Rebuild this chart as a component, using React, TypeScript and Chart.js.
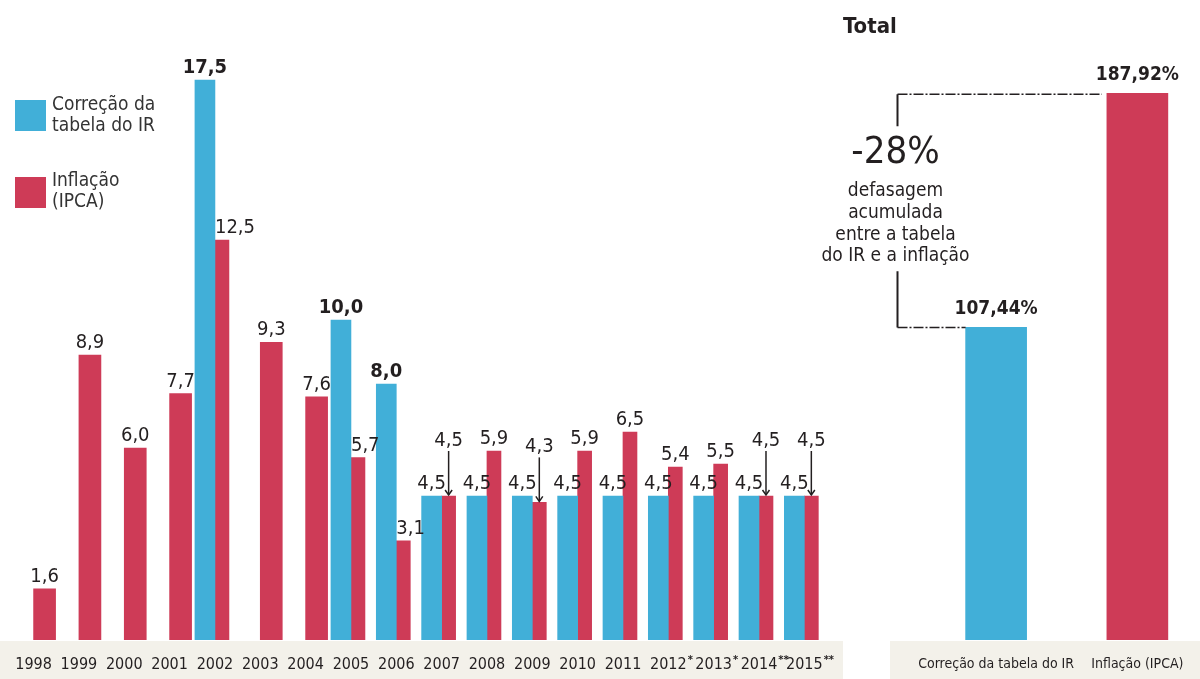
import React, { useEffect, useRef } from "react";
import { Chart, registerables } from "chart.js";

Chart.register(...registerables);

// ---------- data ----------
const years = ["1998", "1999", "2000", "2001", "2002", "2003", "2004", "2005", "2006", "2007", "2008", "2009", "2010", "2011", "2012*", "2013*", "2014**", "2015**"];
const irCorrection = [0, 0, 0, 0, 17.5, 0, 0, 10.0, 8.0, 4.5, 4.5, 4.5, 4.5, 4.5, 4.5, 4.5, 4.5, 4.5];
const inflation = [1.6, 8.9, 6.0, 7.7, 12.5, 9.3, 7.6, 5.7, 3.1, 4.5, 5.9, 4.3, 5.9, 6.5, 5.4, 5.5, 4.5, 4.5];
const seriesNames = ["Correção da tabela do IR", "Inflação (IPCA)"];
const legendLines = [["Correção da", "tabela do IR"], ["Inflação", "(IPCA)"]];
const totalLabels = ["Correção da tabela do IR", "Inflação (IPCA)"];
const totalValues = [107.44, 187.92];
const totalTitle = "Total";
const gapNote = ["defasagem", "acumulada", "entre a tabela", "do IR e a inflação"];

// ---------- style ----------
const BLUE = "#41AFD8";
const RED = "#CE3B57";
const TEXT = "#231F20";
const STRIP = "#F3F1EA";
const COND = "'DejaVu Sans Condensed', 'DejaVu Sans', sans-serif";
const YEAR_FONT_SIZE = 16;

const fmt = (v: number, d = 1) => v.toFixed(d).replace(".", ",");
const yearDigits = (s: string) => s.replace(/\*/g, "");
const yearMarks = (s: string) => s.replace(/[^*]/g, "");

const barLabelsPlugin = {
  id: "barLabels",
  afterDatasetsDraw(chart: any) {
    const ctx = chart.ctx;
    ctx.save();
    ctx.fillStyle = TEXT;
    ctx.strokeStyle = TEXT;
    ctx.textBaseline = "alphabetic";
    chart.data.datasets.forEach((ds: any, di: number) => {
      const meta = chart.getDatasetMeta(di);
      meta.data.forEach((el: any, i: number) => {
        const v = ds.data[i];
        if (v == null || v === 0) return;
        const { x, y, width } = el.getProps(["x", "y", "width"], true);
        const text = fmt(v);
        if (ds.stack === "ir") {
          ctx.font = `${v > 5 ? "bold" : "normal"} 20px ${COND}`;
          ctx.textAlign = "center";
          ctx.fillText(text, x, y - 7);
        } else {
          const ir = irCorrection[i];
          ctx.font = `normal 20px ${COND}`;
          if (ir > 0 && Math.abs(v - ir) <= 0.3) {
            ctx.textAlign = "center";
            ctx.fillText(text, x, y - 50);
            ctx.lineWidth = 1.5;
            ctx.beginPath();
            ctx.moveTo(x, y - 45);
            ctx.lineTo(x, y - 1);
            ctx.stroke();
            ctx.beginPath();
            ctx.moveTo(x - 3.5, y - 6);
            ctx.lineTo(x, y - 1);
            ctx.lineTo(x + 3.5, y - 6);
            ctx.stroke();
          } else if (ir > v) {
            ctx.textAlign = "left";
            ctx.fillText(text, x - width / 2, y - 7);
          } else {
            ctx.textAlign = "center";
            ctx.fillText(text, x, y - 7);
          }
        }
      });
    });
    // superscript marks next to the year ticks
    const xs = chart.scales.x;
    ctx.textBaseline = "top";
    years.forEach((lab, i) => {
      const marks = yearMarks(lab);
      if (!marks) return;
      const px = xs.getPixelForTick(i);
      ctx.font = `normal ${YEAR_FONT_SIZE}px ${COND}`;
      const w = ctx.measureText(yearDigits(lab)).width;
      ctx.font = `bold 11px ${COND}`;
      ctx.textAlign = "left";
      ctx.fillText(marks, px + w / 2 + 1, chart.chartArea.bottom + 15);
    });
    ctx.restore();
  },
};

const totalPlugin = {
  id: "totalNotes",
  afterDatasetsDraw(chart: any) {
    const ctx = chart.ctx;
    const meta = chart.getDatasetMeta(0);
    const bl = meta.data[0].getProps(["x", "y", "width"], true);
    const rd = meta.data[1].getProps(["x", "y", "width"], true);
    ctx.save();
    ctx.fillStyle = TEXT;
    ctx.strokeStyle = TEXT;
    // value labels
    ctx.font = `bold 19px ${COND}`;
    ctx.textAlign = "center";
    ctx.textBaseline = "alphabetic";
    meta.data.forEach((el: any, i: number) => {
      const p = el.getProps(["x", "y"], true);
      ctx.fillText(fmt(totalValues[i], 2) + "%", p.x, p.y - 13);
    });
    // bracket
    const bx = chart.chartArea.left - 28;
    const yTop = rd.y + 1;
    ctx.lineWidth = 1.5;
    ctx.setLineDash([10, 2, 2, 2]);
    ctx.beginPath();
    ctx.moveTo(bx, yTop);
    ctx.lineTo(rd.x - rd.width / 2 - 5, yTop);
    ctx.moveTo(bx, bl.y);
    ctx.lineTo(bl.x - bl.width / 2, bl.y);
    ctx.stroke();
    ctx.setLineDash([]);
    ctx.lineWidth = 2;
    ctx.beginPath();
    ctx.moveTo(bx, yTop);
    ctx.lineTo(bx, yTop + 32);
    ctx.moveTo(bx, yTop + 177);
    ctx.lineTo(bx, bl.y);
    ctx.stroke();
    // note text
    const gap = Math.round(((1 + totalValues[0] / 100) / (1 + totalValues[1] / 100) - 1) * 100);
    ctx.font = `normal 38px ${COND}`;
    ctx.fillText(`${gap}%`, bx - 2, yTop + 69);
    ctx.font = `normal 19px ${COND}`;
    const offs = [102, 124, 146, 167];
    gapNote.forEach((t, i) => ctx.fillText(t, bx - 2, yTop + offs[i]));
    ctx.restore();
  },
};

export default function App() {
  const leftRef = useRef<HTMLCanvasElement>(null);
  const rightRef = useRef<HTMLCanvasElement>(null);

  useEffect(() => {
    const left = new Chart(leftRef.current as HTMLCanvasElement, {
      type: "bar",
      data: {
        labels: years,
        datasets: [
          {
            label: seriesNames[0],
            data: irCorrection,
            backgroundColor: (c: any) => (c.raw ? BLUE : "rgba(0,0,0,0)"),
            stack: "ir",
            barThickness: 20,
          } as any,
          { label: seriesNames[1], data: inflation.map((v, i) => (irCorrection[i] === 0 ? v : null)), backgroundColor: RED, stack: "ipca", barThickness: 22 } as any,
          { label: seriesNames[1], data: inflation.map((v, i) => (irCorrection[i] > 0 ? v : null)), backgroundColor: RED, stack: "ipca", barThickness: 14 } as any,
        ],
      },
      options: {
        responsive: false,
        animation: false,
        layout: { padding: { left: 10, right: 16, top: 0, bottom: 0 } },
        plugins: { legend: { display: false }, tooltip: { enabled: false } },
        scales: {
          x: {
            stacked: true,
            grid: { display: false, drawTicks: false },
            border: { display: false },
            ticks: {
              color: TEXT,
              font: { family: COND, size: YEAR_FONT_SIZE },
              padding: 15,
              maxRotation: 0,
              minRotation: 0,
              autoSkip: false,
              callback: (_v: any, i: number) => yearDigits(years[i]),
            },
            afterFit: (s: any) => { s.height = 39; },
          },
          y: { stacked: true, display: false, min: 0, max: 20 },
        },
      } as any,
      plugins: [barLabelsPlugin],
    });

    const right = new Chart(rightRef.current as HTMLCanvasElement, {
      type: "bar",
      data: {
        labels: totalLabels,
        datasets: [{ label: totalTitle, data: totalValues, backgroundColor: [BLUE, RED], barThickness: 61 } as any],
      },
      options: {
        responsive: false,
        animation: false,
        layout: { padding: { left: 105.5, right: 0, top: 0, bottom: 0 } },
        plugins: { legend: { display: false }, tooltip: { enabled: false } },
        scales: {
          x: {
            grid: { display: false, drawTicks: false },
            border: { display: false },
            ticks: { color: TEXT, font: { family: COND, size: 14 }, padding: 16, maxRotation: 0, minRotation: 0, autoSkip: false },
            afterFit: (s: any) => { s.height = 39; },
          },
          y: { display: false, min: 0, max: 220 },
        },
      } as any,
      plugins: [totalPlugin],
    });

    return () => {
      left.destroy();
      right.destroy();
    };
  }, []);

  const legendColors = [BLUE, RED];
  const legendTops = [100, 177];
  const legendTextTops = [93, 169];

  return (
    <div style={{ position: "absolute", left: 0, top: 0, width: 1200, height: 679, overflow: "hidden", background: "#fff" }}>
      <div style={{ position: "absolute", left: 0, top: 641, width: 843, height: 38, background: STRIP }} />
      <div style={{ position: "absolute", left: 890, top: 641, width: 310, height: 38, background: STRIP }} />
      <canvas ref={leftRef} width={843} height={679} style={{ position: "absolute", left: 0, top: 0, width: 843, height: 679 }} />
      <canvas ref={rightRef} width={388} height={679} style={{ position: "absolute", left: 820, top: 0, width: 388, height: 679 }} />
      <div style={{ position: "absolute", left: 843, top: 13, font: `bold 22px ${COND}`, lineHeight: "26px", color: TEXT }}>{totalTitle}</div>
      {legendLines.map((lines, i) => (
        <React.Fragment key={i}>
          <div style={{ position: "absolute", left: 15, top: legendTops[i], width: 31, height: 31, background: legendColors[i] }} />
          <div style={{ position: "absolute", left: 52, top: legendTextTops[i], font: `normal 19px ${COND}`, lineHeight: "21px", color: "#333" }}>
            {lines.map((l, j) => (<div key={j}>{l}</div>))}
          </div>
        </React.Fragment>
      ))}
    </div>
  );
}
